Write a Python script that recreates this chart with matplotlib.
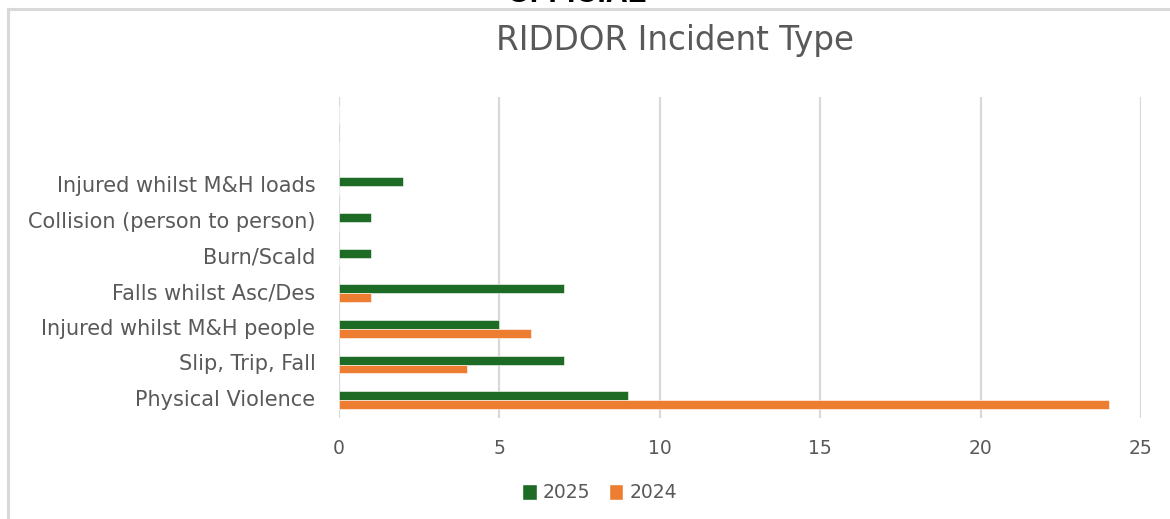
import matplotlib
matplotlib.use("Agg")
import matplotlib.pyplot as plt
import numpy as np
from matplotlib.patches import Patch
from matplotlib.lines import Line2D

# Incident categories (bottom to top), with two blank slots above
categories = ["Physical Violence", "Slip, Trip, Fall", "Injured whilst M&H people",
              "Falls whilst Asc/Des", "Burn/Scald", "Collision (person to person)",
              "Injured whilst M&H loads", "", ""]
counts_2025 = [9, 7, 5, 7, 1, 1, 2, 0, 0]
counts_2024 = [24, 4, 6, 1, 0, 0, 0, 0, 0]
x_ticks = [0, 5, 10, 15, 20, 25]

GREEN = "#1D6B24"
ORANGE = "#ED7D31"
TEXT = "#595959"
GRID = "#D9D9D9"
FONT = "DejaVu Sans"

fig = plt.figure(figsize=(11.70, 5.19), dpi=100)
ax = fig.add_axes([339/1170, 1-418/519, (1141-339)/1170, (418-97)/519])

y = np.arange(len(categories))
h = 0.25
ax.barh(y + h/2, counts_2025, height=h, color=GREEN, edgecolor="white", linewidth=0.4, label="2025", zorder=3)
ax.barh(y - h/2, counts_2024, height=h, color=ORANGE, edgecolor="white", linewidth=0.4, label="2024", zorder=3)

ax.set_xlim(0, 25)
ax.set_ylim(-0.5, len(categories) - 0.5)
ax.set_xticks(x_ticks)
ax.set_yticks(y)
ax.set_yticklabels(categories, fontsize=15, color=TEXT, family=FONT)
for lbl in ax.get_yticklabels():
    lbl.set_verticalalignment("center")
ax.tick_params(axis="y", length=0, pad=17)
ax.tick_params(axis="x", length=0, pad=15, labelsize=13.5, labelcolor=TEXT)
for lbl in ax.get_xticklabels():
    lbl.set_family(FONT)

ax.grid(axis="x", color=GRID, linewidth=1.6, zorder=0)
for s in ax.spines.values():
    s.set_visible(False)

ax.set_facecolor("white")

# Title
fig.text(675/1170, 1-50/519, "RIDDOR Incident Type", ha="center", va="baseline",
         fontsize=23.5, color=TEXT, family=FONT)

# Legend
handles = [Patch(facecolor=GREEN, edgecolor="white", label="2025"),
           Patch(facecolor=ORANGE, edgecolor="white", label="2024")]
leg = fig.legend(handles=handles, loc="center", bbox_to_anchor=(600/1170, 1-493/519),
                 ncol=2, frameon=False, handlelength=0.75, handleheight=0.9,
                 handletextpad=0.35, columnspacing=1.0, prop={"family": FONT, "size": 13.5})
for t in leg.get_texts():
    t.set_color(TEXT)

# Page marking at the top edge
fig.text(577/1170, 1-2/519, "OFFICIAL", ha="center", va="baseline", fontsize=22,
         fontweight="bold", color="black", family="Liberation Sans", zorder=0)

# Chart frame (left and top edges)
fig.add_artist(Line2D([8/1170, 8/1170], [0, 1-9/519], transform=fig.transFigure,
                      color=GRID, linewidth=2.2, zorder=5))
fig.add_artist(Line2D([8/1170, 1.01], [1-9/519, 1-9/519], transform=fig.transFigure,
                      color=GRID, linewidth=2.2, zorder=5))

fig.savefig("out.png", dpi=100, facecolor="white")
